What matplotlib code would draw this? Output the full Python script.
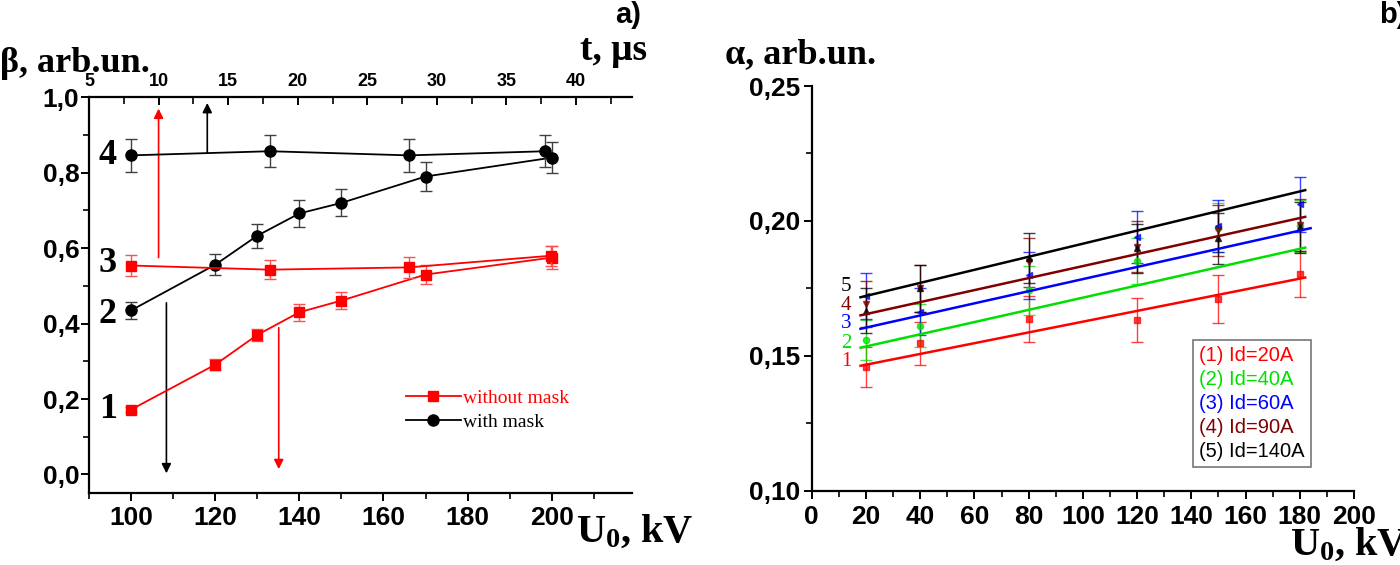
import numpy as np
import matplotlib.pyplot as plt
from matplotlib.lines import Line2D
from matplotlib.ticker import MultipleLocator

plt.rcParams['mathtext.fontset'] = 'custom'
plt.rcParams['mathtext.rm'] = 'Liberation Serif:bold'
plt.rcParams['mathtext.it'] = 'Liberation Serif:bold'
plt.rcParams['mathtext.bf'] = 'Liberation Serif:bold'

SERIF = ['Liberation Serif', 'DejaVu Serif']
SANS = ['Liberation Sans', 'DejaVu Sans']

# ---- panel a) : beta vs U0 (curves 1, 2) and vs t (curves 3, 4) ----
u_a = [100, 120, 130, 140, 150, 170, 200]
beta1 = [0.172, 0.291, 0.370, 0.430, 0.461, 0.530, 0.575]
err1 = [0.006, 0.014, 0.016, 0.022, 0.023, 0.025, 0.030]
beta2 = [0.435, 0.556, 0.633, 0.692, 0.720, 0.790, 0.840]
err2 = [0.022, 0.028, 0.032, 0.035, 0.036, 0.039, 0.042]

t3 = [8, 18, 28, 38.2]
beta3 = [0.554, 0.543, 0.549, 0.580]
err3 = [0.027, 0.026, 0.027, 0.027]
t4 = [8, 18, 28, 37.8]
beta4 = [0.846, 0.857, 0.846, 0.857]
err4 = [0.043, 0.043, 0.043, 0.043]

curve_names_a = ['1', '2', '3', '4']
curve_pos_a = [0.172, 0.424, 0.56, 0.846]

# ---- panel b) : alpha vs U0 for several Id ----
u_b = [20, 40, 80, 120, 150, 180]
alpha_vals = [
    [0.1459, 0.1547, 0.1636, 0.1633, 0.1710, 0.1802],
    [0.1558, 0.1611, 0.1743, 0.1852, 0.1975, 0.1981],
    [0.1722, 0.1664, 0.1799, 0.1941, 0.1981, 0.2062],
    [0.1691, 0.1751, 0.1846, 0.1905, 0.1965, 0.1985],
    [0.1667, 0.1751, 0.1864, 0.1898, 0.1936, 0.1976],
]
alpha_errs = [
    [0.0075, 0.0080, 0.0084, 0.0082, 0.0088, 0.0085],
    [0.0075, 0.0080, 0.0090, 0.0085, 0.0090, 0.0095],
    [0.0085, 0.0087, 0.0087, 0.0096, 0.0097, 0.0102],
    [0.0085, 0.0087, 0.0090, 0.0095, 0.0095, 0.0095],
    [0.0083, 0.0087, 0.0093, 0.0090, 0.0095, 0.0095],
]
# linear fits: start / end of each line
fit_x0 = [18, 18, 18, 18, 18]
fit_x1 = [182, 182, 184, 182, 182]
fit_y0 = [0.1463, 0.1530, 0.1600, 0.1650, 0.1717]
fit_y1 = [0.1790, 0.1901, 0.1973, 0.2015, 0.2114]
label_pos_b = [0.1479, 0.1547, 0.1619, 0.1687, 0.1757]
legend_b = ['(1) Id=20A', '(2) Id=40A', '(3) Id=60A', '(4) Id=90A', '(5) Id=140A']
colors_b = ['#ff0000', '#00e000', '#0000ff', '#800000', '#000000']
markers_b = ['s', 'o', '<', 'v', '^']

W, H = 1400, 565
fig = plt.figure(figsize=(W / 100, H / 100), dpi=100)


def fx(x):
    return x / W


def fy(y):
    return 1 - y / H


# ================= panel a =================
ax1 = fig.add_axes([fx(89), fy(493.3), fx(631.7 - 89), (493.3 - 97.3) / H])
ax1.set_xlim(90, 219)
ax1.set_ylim(-0.05, 1.0)
ax1.spines['right'].set_visible(False)
ax1.spines['top'].set_visible(False)
for s in ['left', 'bottom']:
    ax1.spines[s].set_linewidth(1.6)
ax1.xaxis.set_minor_locator(MultipleLocator(10))
ax1.yaxis.set_major_locator(MultipleLocator(0.2))
ax1.yaxis.set_minor_locator(MultipleLocator(0.1))
ax1.set_xticks([100, 120, 140, 160, 180, 200])
ax1.tick_params(which='major', direction='out', length=6, width=1.4,
                labelsize=19, pad=3)
ax1.tick_params(which='minor', direction='out', length=4, width=1.2)
ax1.tick_params(axis='y', pad=1)
ax1.yaxis.set_major_formatter(plt.FuncFormatter(lambda v, p: f"{v:.1f}".replace('.', ',')))
for lab in ax1.get_xticklabels() + ax1.get_yticklabels():
    lab.set_fontfamily(SANS)
    lab.set_fontweight('bold')

ax1.errorbar(u_a, beta1, yerr=err1, color='#ff0000', marker='s', ms=7.5, lw=1.3,
             ecolor='#ff5050', elinewidth=1.0, capsize=4, capthick=1.0, zorder=3)
ax1.errorbar(u_a, beta2, yerr=err2, color='black', marker='o', ms=8, lw=1.3,
             ecolor='#404040', elinewidth=1.0, capsize=4, capthick=1.0, zorder=3)

ax1t = ax1.twiny()
ax1t.set_xlim(5, 44)
ax1t.set_ylim(-0.05, 1.0)
for s in ['left', 'right', 'bottom']:
    ax1t.spines[s].set_visible(False)
ax1t.spines['top'].set_linewidth(1.6)
ax1t.xaxis.set_minor_locator(MultipleLocator(2.5))
ax1t.set_xticks([5, 10, 15, 20, 25, 30, 35, 40])
ax1t.tick_params(axis='x', which='major', direction='in', length=6, width=1.4,
                 labelsize=13, pad=5)
ax1t.tick_params(axis='x', which='minor', direction='in', length=5, width=1.2)
for lab in ax1t.get_xticklabels():
    lab.set_fontfamily(SANS)
    lab.set_fontweight('bold')

ax1t.errorbar(t3, beta3, yerr=err3, color='#ff0000', marker='s', ms=7.5, lw=1.3,
              ecolor='#ff5050', elinewidth=1.0, capsize=4, capthick=1.0, zorder=3)
ax1t.errorbar(t4, beta4, yerr=err4, color='black', marker='o', ms=8, lw=1.3,
              ecolor='#404040', elinewidth=1.0, capsize=4, capthick=1.0, zorder=3)

arrow_kw = dict(arrowstyle='-|>', lw=1.2, mutation_scale=14, shrinkA=0, shrinkB=0)
ax1t.annotate('', xy=(10, 0.97), xytext=(10, 0.575),
              arrowprops=dict(color='#ff0000', **arrow_kw))
ax1t.annotate('', xy=(13.5, 0.985), xytext=(13.5, 0.852),
              arrowprops=dict(color='black', **arrow_kw))
ax1.annotate('', xy=(108.4, 0.003), xytext=(108.4, 0.455),
             arrowprops=dict(color='black', **arrow_kw))
ax1.annotate('', xy=(135.1, 0.014), xytext=(135.1, 0.389),
             arrowprops=dict(color='#ff0000', **arrow_kw))

for name, yv in zip(curve_names_a, curve_pos_a):
    ax1.text(94.5, yv, name, fontsize=26, fontweight='bold', family=SERIF,
             ha='center', va='center')

handles_a = [
    Line2D([], [], color='#ff0000', marker='s', ms=7.5, lw=1.3),
    Line2D([], [], color='black', marker='o', ms=8, lw=1.3),
]
leg_a = ax1.legend(handles_a, ['without mask', 'with mask'], loc='center left',
                   bbox_to_anchor=(0.57, 0.21), frameon=False, handlelength=2.8,
                   handletextpad=0.1, labelspacing=0.35, borderaxespad=0,
                   prop={'family': SERIF, 'size': 14}, labelcolor=['#ff0000', 'black'],
                   numpoints=1)

fig.text(fx(0), fy(72), 'β, arb.un.', fontsize=26, fontweight='bold', family=SERIF,
         ha='left', va='baseline')
fig.text(fx(647), fy(60), 't, μs', fontsize=27, fontweight='bold', family=SERIF,
         ha='right', va='baseline')
fig.text(fx(641), fy(15), 'a)', fontsize=21, fontweight='bold', family=SANS,
         ha='right', va='center')
fig.text(fx(576), fy(542), 'U$_0$, kV', fontsize=29, fontweight='bold', family=SERIF,
         ha='left', va='baseline')

# ================= panel b =================
ax2 = fig.add_axes([fx(811.7), fy(490.7), fx(1354 - 811.7), (490.7 - 86) / H])
ax2.set_xlim(0, 200)
ax2.set_ylim(0.10, 0.25)
ax2.spines['right'].set_visible(False)
ax2.spines['top'].set_visible(False)
for s in ['left', 'bottom']:
    ax2.spines[s].set_linewidth(1.6)
ax2.xaxis.set_major_locator(MultipleLocator(20))
ax2.xaxis.set_minor_locator(MultipleLocator(10))
ax2.yaxis.set_major_locator(MultipleLocator(0.05))
ax2.yaxis.set_minor_locator(MultipleLocator(0.025))
ax2.tick_params(which='major', direction='out', length=6, width=1.4,
                labelsize=19, pad=4)
ax2.tick_params(which='minor', direction='out', length=4, width=1.2)
ax2.tick_params(axis='y', pad=2)
ax2.yaxis.set_major_formatter(plt.FuncFormatter(lambda v, p: f"{v:.2f}".replace('.', ',')))
for lab in ax2.get_xticklabels() + ax2.get_yticklabels():
    lab.set_fontfamily(SANS)
    lab.set_fontweight('bold')

for i in range(5):
    c = colors_b[i]
    ax2.errorbar(u_b, alpha_vals[i], yerr=alpha_errs[i], color=c, marker=markers_b[i],
                 ms=4.5, ls='none', ecolor=c, elinewidth=1.0, capsize=4, capthick=1.0,
                 alpha=0.75, zorder=3)
    ax2.plot([fit_x0[i], fit_x1[i]], [fit_y0[i], fit_y1[i]], color=c, lw=1.8, zorder=4)
    ax2.text(12.7, label_pos_b[i], str(i + 1), color=c,
             fontsize=15, family=SERIF, ha='center', va='center')

handles_b = [Line2D([], [], ls='none') for _ in legend_b]
leg_b = ax2.legend(handles_b, legend_b, loc='upper left', bbox_to_anchor=(0.703, 0.372),
                   borderaxespad=0, handlelength=0, handletextpad=0, labelspacing=0.25,
                   borderpad=0.3, fancybox=False, edgecolor='#555555',
                   prop={'family': SANS, 'size': 14.5}, labelcolor=colors_b)
leg_b.get_frame().set_linewidth(1.2)

fig.text(fx(725), fy(63), 'α, arb.un.', fontsize=26, fontweight='bold', family=SERIF,
         ha='left', va='baseline')
fig.text(fx(1379), fy(15), 'b)', fontsize=21, fontweight='bold', family=SANS,
         ha='left', va='center')
fig.text(fx(1290), fy(555), 'U$_0$, kV', fontsize=29, fontweight='bold', family=SERIF,
         ha='left', va='baseline')

fig.savefig('out.png', dpi=100)
